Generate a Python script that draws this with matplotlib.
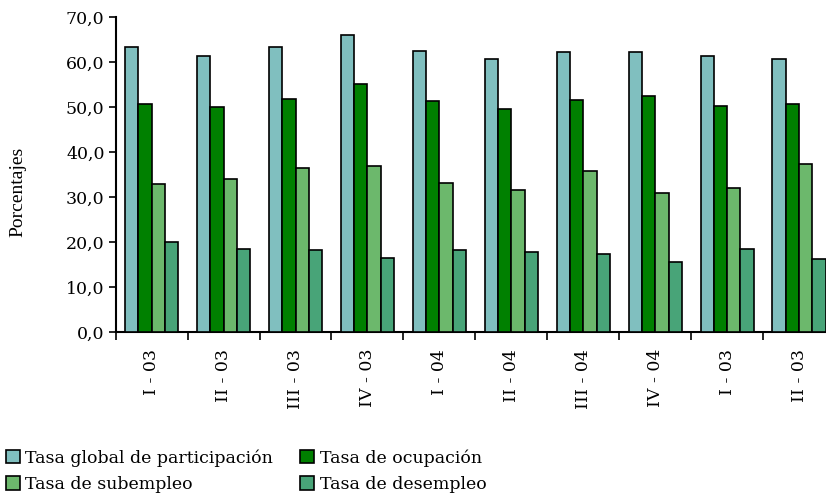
import matplotlib
matplotlib.use('Agg')
import matplotlib.pyplot as plt
import matplotlib.patches as patches
import numpy as np

# Data
periodos = ['I - 03', 'II - 03', 'III - 03', 'IV - 03', 'I - 04',
            'II - 04', 'III - 04', 'IV - 04', 'I - 03', 'II - 03']
series = ['Tasa global de participación', 'Tasa de ocupación',
          'Tasa de subempleo', 'Tasa de desempleo']
global_part = [63.4, 61.5, 63.4, 66.0, 62.6, 60.8, 62.3, 62.3, 61.5, 60.8]
ocupacion = [50.8, 50.1, 51.9, 55.2, 51.5, 49.7, 51.6, 52.6, 50.4, 50.8]
subempleo = [32.9, 34.0, 36.5, 36.9, 33.1, 31.7, 35.8, 31.0, 32.1, 37.3]
desempleo = [20.0, 18.5, 18.2, 16.4, 18.3, 17.7, 17.4, 15.5, 18.5, 16.3]

colors = ['#80BFBF', '#008000', '#6CB86C', '#48A478']
values = [global_part, ocupacion, subempleo, desempleo]

fig = plt.figure(figsize=(8.26, 4.93), dpi=100)
ax = fig.add_axes([0.140, 0.3266, 0.871, 0.638])

serif = 'DejaVu Serif'
x = np.arange(len(periodos))
w = 0.185
for i, (vals, col) in enumerate(zip(values, colors)):
    ax.bar(x + (i - 1.5) * w, vals, w, color=col, edgecolor='black',
           linewidth=1.2, zorder=3)

ax.set_xlim(-0.5, len(periodos) - 0.5)
ax.set_ylim(0, 70)
ax.set_yticks(np.arange(0, 71, 10))
ax.set_yticklabels([f'{v:.1f}'.replace('.', ',') for v in np.arange(0, 71, 10)],
                   fontsize=12.5, family=serif)
ax.tick_params(axis='y', direction='out', length=5, width=1.2, pad=3)

# boundary ticks (major) and centered labels (minor)
ax.set_xticks(np.arange(-0.5, len(periodos), 1.0))
ax.set_xticklabels([])
ax.tick_params(axis='x', which='major', direction='out', length=6, width=1.2)
ax.set_xticks(x, minor=True)
ax.set_xticklabels(periodos, minor=True, rotation=90, fontsize=12.5,
                   family=serif)
ax.tick_params(axis='x', which='minor', length=0, pad=12)

for s in ['top', 'right']:
    ax.spines[s].set_visible(False)
for s in ['left', 'bottom']:
    ax.spines[s].set_linewidth(1.5)

fig.text(0.022, 0.61, 'Porcentajes', rotation=90, ha='center', va='center',
         fontsize=14, family='Liberation Serif')

# legend fills column-major, so order for row-major reading
order = [0, 2, 1, 3]
handles = [patches.Patch(facecolor=colors[i], edgecolor='black', linewidth=1.2)
           for i in order]
labels = [series[i] for i in order]
fig.legend(handles, labels, loc='lower left', bbox_to_anchor=(-0.012, -0.032),
           ncol=2, frameon=False, prop={'family': serif, 'size': 12.5},
           handlelength=0.8, handleheight=0.8, handletextpad=0.3,
           columnspacing=1.6, labelspacing=0.55)

plt.savefig('out.png', dpi=100, facecolor='white')
plt.close()
